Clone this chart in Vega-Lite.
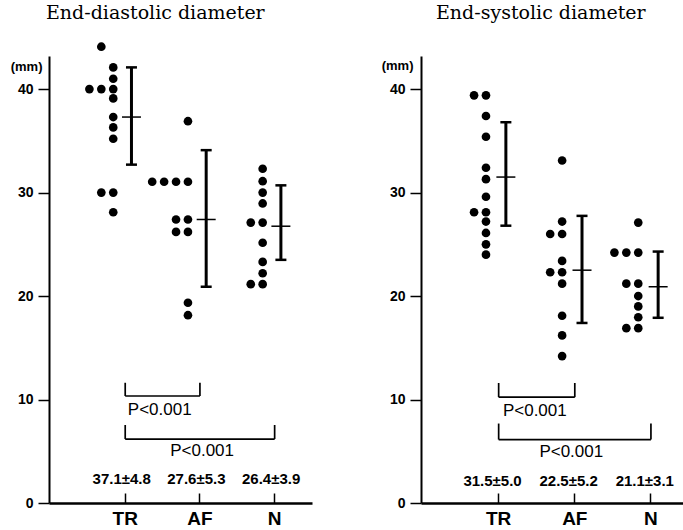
{
  "$schema": "https://vega.github.io/schema/vega-lite/v6.json",
  "background": "white",
  "padding": {"left": 10, "top": 4, "right": 0, "bottom": 0},
  "bounds": "flush",
  "spacing": 109,
  "config": {
    "view": {"stroke": null},
    "text": {"font": "Liberation Sans", "color": "black"},
    "axis": {"grid": false, "domainColor": "black", "tickColor": "black", "labelColor": "black", "labelFont": "Liberation Sans"}
  },
  "datasets": {
    "ed": [
      {"g": "TR", "v": 44.1, "c": -2}, {"g": "TR", "v": 42.1, "c": -1}, {"g": "TR", "v": 41.0, "c": -1},
      {"g": "TR", "v": 40.0, "c": -3}, {"g": "TR", "v": 40.0, "c": -2}, {"g": "TR", "v": 40.0, "c": -1},
      {"g": "TR", "v": 39.1, "c": -1}, {"g": "TR", "v": 37.3, "c": -1}, {"g": "TR", "v": 36.3, "c": -1},
      {"g": "TR", "v": 35.2, "c": -1}, {"g": "TR", "v": 30.0, "c": -2}, {"g": "TR", "v": 30.0, "c": -1},
      {"g": "TR", "v": 28.1, "c": -1},
      {"g": "AF", "v": 36.9, "c": -1}, {"g": "AF", "v": 31.05, "c": -4}, {"g": "AF", "v": 31.05, "c": -3},
      {"g": "AF", "v": 31.05, "c": -2}, {"g": "AF", "v": 31.05, "c": -1}, {"g": "AF", "v": 27.4, "c": -2},
      {"g": "AF", "v": 27.4, "c": -1}, {"g": "AF", "v": 26.2, "c": -2}, {"g": "AF", "v": 26.2, "c": -1},
      {"g": "AF", "v": 19.35, "c": -1}, {"g": "AF", "v": 18.15, "c": -1},
      {"g": "N", "v": 32.3, "c": -1}, {"g": "N", "v": 31.1, "c": -1}, {"g": "N", "v": 30.0, "c": -1},
      {"g": "N", "v": 28.95, "c": -1}, {"g": "N", "v": 27.1, "c": -2}, {"g": "N", "v": 27.1, "c": -1},
      {"g": "N", "v": 25.15, "c": -1}, {"g": "N", "v": 23.3, "c": -1}, {"g": "N", "v": 22.2, "c": -1},
      {"g": "N", "v": 21.15, "c": -2}, {"g": "N", "v": 21.15, "c": -1}
    ],
    "es": [
      {"g": "TR", "v": 39.4, "c": -2}, {"g": "TR", "v": 39.4, "c": -1}, {"g": "TR", "v": 37.4, "c": -1},
      {"g": "TR", "v": 35.4, "c": -1}, {"g": "TR", "v": 32.4, "c": -1}, {"g": "TR", "v": 31.3, "c": -1},
      {"g": "TR", "v": 29.6, "c": -1}, {"g": "TR", "v": 28.1, "c": -2}, {"g": "TR", "v": 28.1, "c": -1},
      {"g": "TR", "v": 27.2, "c": -1}, {"g": "TR", "v": 26.1, "c": -1}, {"g": "TR", "v": 25.0, "c": -1},
      {"g": "TR", "v": 24.0, "c": -1},
      {"g": "AF", "v": 33.1, "c": -1}, {"g": "AF", "v": 27.2, "c": -1}, {"g": "AF", "v": 26.0, "c": -2},
      {"g": "AF", "v": 26.0, "c": -1}, {"g": "AF", "v": 23.4, "c": -1}, {"g": "AF", "v": 22.3, "c": -2},
      {"g": "AF", "v": 22.3, "c": -1}, {"g": "AF", "v": 21.2, "c": -1}, {"g": "AF", "v": 18.1, "c": -1},
      {"g": "AF", "v": 16.2, "c": -1}, {"g": "AF", "v": 14.2, "c": -1},
      {"g": "N", "v": 27.1, "c": -1}, {"g": "N", "v": 24.2, "c": -3}, {"g": "N", "v": 24.2, "c": -2},
      {"g": "N", "v": 24.2, "c": -1}, {"g": "N", "v": 21.2, "c": -2}, {"g": "N", "v": 21.2, "c": -1},
      {"g": "N", "v": 20.0, "c": -1}, {"g": "N", "v": 19.0, "c": -1}, {"g": "N", "v": 17.95, "c": -1},
      {"g": "N", "v": 16.9, "c": -2}, {"g": "N", "v": 16.9, "c": -1}
    ],
    "edsum": [
      {"g": "TR", "mean": 37.3, "lo": 32.7, "hi": 42.1, "label": "37.1±4.8"},
      {"g": "AF", "mean": 27.4, "lo": 20.9, "hi": 34.1, "label": "27.6±5.3"},
      {"g": "N", "mean": 26.75, "lo": 23.5, "hi": 30.7, "label": "26.4±3.9"}
    ],
    "essum": [
      {"g": "TR", "mean": 31.5, "lo": 26.8, "hi": 36.8, "label": "31.5±5.0"},
      {"g": "AF", "mean": 22.5, "lo": 17.4, "hi": 27.75, "label": "22.5±5.2"},
      {"g": "N", "mean": 20.9, "lo": 17.9, "hi": 24.3, "label": "21.1±3.1"}
    ],
    "br": [
      {"a": "TR", "b": "AF", "p": "P<0.001"},
      {"a": "TR", "b": "N", "p": "P<0.001"}
    ]
  },
  "hconcat": [
    {
      "width": 263,
      "height": 447,
      "title": {"text": "End-diastolic diameter", "font": "DejaVu Serif", "fontSize": 19, "fontWeight": "normal", "color": "black", "anchor": "start", "frame": "group", "dx": -3, "baseline": "alphabetic", "offset": 4},
      "layer": [
        {
          "data": {"name": "ed"},
          "mark": {"type": "circle", "size": 75, "color": "black", "opacity": 1, "clip": false},
          "encoding": {
            "x": {"field": "g", "type": "nominal", "sort": null,
              "scale": {"domain": ["TR", "AF", "N"], "paddingInner": 0, "paddingOuter": 0.26, "align": 1},
              "axis": {"title": null, "labelAngle": 0, "labelFontSize": 19, "labelFontWeight": "bold", "tickSize": -10, "tickWidth": 1.5, "domainWidth": 2.5, "labelPadding": 16}},
            "xOffset": {"field": "c", "type": "quantitative", "scale": {"domain": [-2.98, 3.14]}},
            "y": {"field": "v", "type": "quantitative",
              "scale": {"domain": [0, 43.2], "nice": false},
              "axis": {"values": [0, 10, 20, 30, 40], "title": "(mm)", "titleAngle": 0, "titleAlign": "right", "titleBaseline": "middle", "titleX": -7, "titleY": 10, "titleFontSize": 13, "titleFontWeight": "bold", "titleFont": "Liberation Sans", "titleColor": "black", "labelFontSize": 14, "labelFontWeight": "bold", "tickSize": 11, "tickWidth": 1.5, "domainWidth": 2, "labelPadding": 5}}
          }
        },
        {
          "data": {"name": "edsum"},
          "mark": {"type": "rule", "strokeWidth": 3, "color": "black"},
          "encoding": {"x": {"field": "g", "type": "nominal"}, "xOffset": {"datum": 0.53}, "y": {"field": "lo", "type": "quantitative"}, "y2": {"field": "hi"}}
        },
        {
          "data": {"name": "edsum"},
          "transform": [{"fold": ["lo", "hi"], "as": ["k", "val"]}],
          "mark": {"type": "tick", "size": 11, "thickness": 2.5, "color": "black", "opacity": 1},
          "encoding": {"x": {"field": "g", "type": "nominal"}, "xOffset": {"datum": 0.53}, "y": {"field": "val", "type": "quantitative"}}
        },
        {
          "data": {"name": "edsum"},
          "mark": {"type": "tick", "size": 19, "thickness": 1.5, "color": "black", "opacity": 1},
          "encoding": {"x": {"field": "g", "type": "nominal"}, "xOffset": {"datum": 0.53}, "y": {"field": "mean", "type": "quantitative"}}
        },
        {
          "data": {"name": "edsum"},
          "mark": {"type": "text", "fontSize": 15, "fontWeight": "bold", "baseline": "middle"},
          "encoding": {"x": {"field": "g", "type": "nominal"}, "xOffset": {"datum": -0.29}, "y": {"datum": 2.29}, "text": {"field": "label"}}
        },
        {
          "data": {"name": "br"},
          "transform": [{"filter": "datum.b == 'AF'"}],
          "mark": {"type": "rule", "strokeWidth": 1.7, "color": "black"},
          "encoding": {"x": {"field": "a", "type": "nominal"}, "x2": {"field": "b"}, "y": {"datum": 10.34}}
        },
        {
          "data": {"name": "br"},
          "transform": [{"filter": "datum.b == 'AF'"}, {"fold": ["a", "b"], "as": ["end", "grp"]}],
          "mark": {"type": "rule", "strokeWidth": 1.7, "color": "black"},
          "encoding": {"x": {"field": "grp", "type": "nominal"}, "y": {"datum": 10.34}, "y2": {"datum": 11.62}}
        },
        {
          "data": {"name": "br"},
          "transform": [{"filter": "datum.b == 'AF'"}],
          "mark": {"type": "text", "fontSize": 17, "baseline": "middle"},
          "encoding": {"x": {"field": "a", "type": "nominal"}, "xOffset": {"datum": 2.9}, "y": {"datum": 8.96}, "text": {"field": "p"}}
        },
        {
          "data": {"name": "br"},
          "transform": [{"filter": "datum.b == 'N'"}],
          "mark": {"type": "rule", "strokeWidth": 1.7, "color": "black"},
          "encoding": {"x": {"field": "a", "type": "nominal"}, "x2": {"field": "b"}, "y": {"datum": 6.18}}
        },
        {
          "data": {"name": "br"},
          "transform": [{"filter": "datum.b == 'N'"}, {"fold": ["a", "b"], "as": ["end", "grp"]}],
          "mark": {"type": "rule", "strokeWidth": 1.7, "color": "black"},
          "encoding": {"x": {"field": "grp", "type": "nominal"}, "y": {"datum": 6.18}, "y2": {"datum": 7.54}}
        },
        {
          "data": {"name": "br"},
          "transform": [{"filter": "datum.b == 'N'"}],
          "mark": {"type": "text", "fontSize": 17, "baseline": "middle"},
          "encoding": {"x": {"datum": "AF"}, "xOffset": {"datum": 0.19}, "y": {"datum": 5.03}, "text": {"field": "p"}}
        }
      ]
    },
    {
      "width": 268,
      "height": 447,
      "title": {"text": "End-systolic diameter", "font": "DejaVu Serif", "fontSize": 19, "fontWeight": "normal", "color": "black", "anchor": "start", "frame": "group", "dx": 15, "baseline": "alphabetic", "offset": 18},
      "layer": [
        {
          "data": {"name": "es"},
          "mark": {"type": "circle", "size": 75, "color": "black", "opacity": 1, "clip": false},
          "encoding": {
            "x": {"field": "g", "type": "nominal", "sort": null,
              "scale": {"domain": ["TR", "AF", "N"], "paddingInner": 0, "paddingOuter": 0.26, "align": 1},
              "axis": {"title": null, "labelAngle": 0, "labelFontSize": 19, "labelFontWeight": "bold", "tickSize": -10, "tickWidth": 1.5, "domainWidth": 2.5, "labelPadding": 16}},
            "xOffset": {"field": "c", "type": "quantitative", "scale": {"domain": [-3.13, 3.05]}},
            "y": {"field": "v", "type": "quantitative",
              "scale": {"domain": [0, 43.2], "nice": false},
              "axis": {"values": [0, 10, 20, 30, 40], "title": "(mm)", "titleAngle": 0, "titleAlign": "right", "titleBaseline": "middle", "titleX": -8, "titleY": 9, "titleFontSize": 13, "titleFontWeight": "bold", "titleFont": "Liberation Sans", "titleColor": "black", "labelFontSize": 14, "labelFontWeight": "bold", "tickSize": 11, "tickWidth": 1.5, "domainWidth": 2, "labelPadding": 5}}
          }
        },
        {
          "data": {"name": "essum"},
          "mark": {"type": "rule", "strokeWidth": 3, "color": "black"},
          "encoding": {"x": {"field": "g", "type": "nominal"}, "xOffset": {"datum": 0.67}, "y": {"field": "lo", "type": "quantitative"}, "y2": {"field": "hi"}}
        },
        {
          "data": {"name": "essum"},
          "transform": [{"fold": ["lo", "hi"], "as": ["k", "val"]}],
          "mark": {"type": "tick", "size": 11, "thickness": 2.5, "color": "black", "opacity": 1},
          "encoding": {"x": {"field": "g", "type": "nominal"}, "xOffset": {"datum": 0.67}, "y": {"field": "val", "type": "quantitative"}}
        },
        {
          "data": {"name": "essum"},
          "mark": {"type": "tick", "size": 19, "thickness": 1.5, "color": "black", "opacity": 1},
          "encoding": {"x": {"field": "g", "type": "nominal"}, "xOffset": {"datum": 0.67}, "y": {"field": "mean", "type": "quantitative"}}
        },
        {
          "data": {"name": "essum"},
          "mark": {"type": "text", "fontSize": 15, "fontWeight": "bold", "baseline": "middle"},
          "encoding": {"x": {"field": "g", "type": "nominal"}, "xOffset": {"datum": -0.45}, "y": {"datum": 2.1}, "text": {"field": "label"}}
        },
        {
          "data": {"name": "br"},
          "transform": [{"filter": "datum.b == 'AF'"}],
          "mark": {"type": "rule", "strokeWidth": 1.7, "color": "black"},
          "encoding": {"x": {"field": "a", "type": "nominal"}, "x2": {"field": "b"}, "y": {"datum": 10.23}}
        },
        {
          "data": {"name": "br"},
          "transform": [{"filter": "datum.b == 'AF'"}, {"fold": ["a", "b"], "as": ["end", "grp"]}],
          "mark": {"type": "rule", "strokeWidth": 1.7, "color": "black"},
          "encoding": {"x": {"field": "grp", "type": "nominal"}, "y": {"datum": 10.23}, "y2": {"datum": 11.6}}
        },
        {
          "data": {"name": "br"},
          "transform": [{"filter": "datum.b == 'AF'"}],
          "mark": {"type": "text", "fontSize": 17, "baseline": "middle"},
          "encoding": {"x": {"field": "a", "type": "nominal"}, "xOffset": {"datum": 3.1}, "y": {"datum": 8.88}, "text": {"field": "p"}}
        },
        {
          "data": {"name": "br"},
          "transform": [{"filter": "datum.b == 'N'"}],
          "mark": {"type": "rule", "strokeWidth": 1.7, "color": "black"},
          "encoding": {"x": {"field": "a", "type": "nominal"}, "x2": {"field": "b"}, "y": {"datum": 6.13}}
        },
        {
          "data": {"name": "br"},
          "transform": [{"filter": "datum.b == 'N'"}, {"fold": ["a", "b"], "as": ["end", "grp"]}],
          "mark": {"type": "rule", "strokeWidth": 1.7, "color": "black"},
          "encoding": {"x": {"field": "grp", "type": "nominal"}, "y": {"datum": 6.13}, "y2": {"datum": 7.68}}
        },
        {
          "data": {"name": "br"},
          "transform": [{"filter": "datum.b == 'N'"}],
          "mark": {"type": "text", "fontSize": 17, "baseline": "middle"},
          "encoding": {"x": {"datum": "AF"}, "xOffset": {"datum": -0.23}, "y": {"datum": 4.9}, "text": {"field": "p"}}
        }
      ]
    }
  ]
}
